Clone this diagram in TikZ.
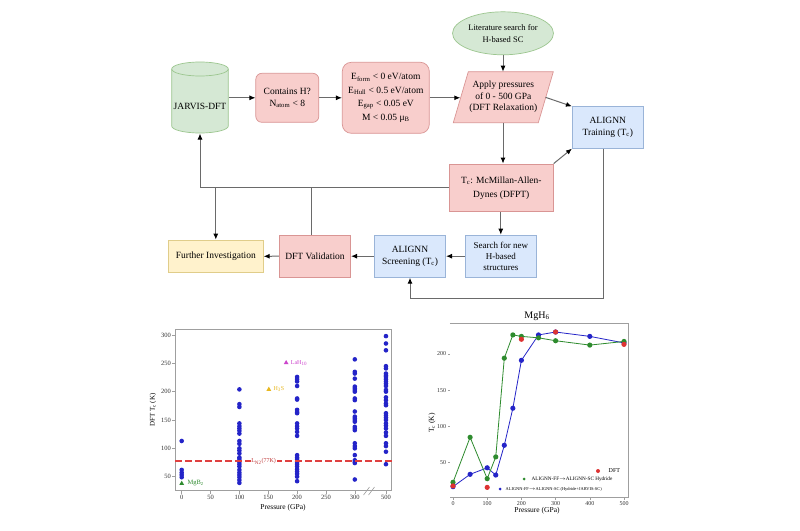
\documentclass[tikz,border=0pt]{standalone}
\usepackage{fontspec}
\setmainfont{Liberation Serif}
\usetikzlibrary{arrows.meta,shapes.geometric}
\definecolor{pinkF}{HTML}{F8CECC}
\definecolor{pinkD}{HTML}{D99594}
\definecolor{greenF}{HTML}{D5E8D4}
\definecolor{greenD}{HTML}{9CC68F}
\definecolor{blueF}{HTML}{DAE8FC}
\definecolor{blueD}{HTML}{9AB4D8}
\definecolor{yellowF}{HTML}{FFF2CC}
\definecolor{yellowD}{HTML}{E0CD8A}
\definecolor{lineC}{HTML}{6A6A6A}
\definecolor{dotB}{HTML}{2424C8}
\definecolor{dotG}{HTML}{2E8B2E}
\definecolor{dotR}{HTML}{DD3333}
\definecolor{magA}{HTML}{CC44CC}
\definecolor{goldA}{HTML}{E8B820}
\definecolor{lnRed}{rgb}{0.88,0.25,0.25}
\begin{document}
\begin{tikzpicture}[x=1pt,y=-1pt,
  fc/.style={align=center, font=\fontsize{9.5}{11.5}\selectfont, inner sep=1pt, line width=0.7pt},
  pinkbox/.style={fc, fill=pinkF, draw=pinkD},
  bluebox/.style={fc, fill=blueF, draw=blueD},
  flow/.style={draw=lineC, line width=1pt, -{Latex[length=6pt,width=5pt,color=black]}},
  plain/.style={draw=lineC, line width=1pt},
  spine/.style={draw=gray!75, line width=0.6pt},
  tklab/.style={font=\fontsize{6.5}{7}\selectfont, inner sep=0.5pt, text=black!80},
  tklabr/.style={font=\fontsize{6}{7}\selectfont, inner sep=0.5pt, text=black!80},
  tri/.style={regular polygon, regular polygon sides=3, inner sep=0pt, minimum size=5.5pt},
]
\useasboundingbox (0,0) rectangle (800,530);
\fill[white] (0,0) rectangle (800,530);

% ---------------- flowchart ----------------
% JARVIS cylinder
\fill[greenF, draw=greenD, line width=0.7pt] (171.7,69) -- (171.7,126)
  arc[start angle=180, end angle=0, x radius=28.3, y radius=7] -- (228.3,69)
  arc[start angle=360, end angle=180, x radius=28.3, y radius=7] -- cycle;
\draw[greenD, line width=0.7pt] (171.7,69) arc[start angle=180, end angle=0, x radius=28.3, y radius=7];
\node[minimum width=56.6pt, minimum height=71.6pt, inner sep=0pt] (jarvis) at (200,97.5) {};
\node[fc] (jarvislab) at (200,106) {JARVIS-DFT};

\node[pinkbox, rounded corners=6pt, minimum width=63pt, minimum height=49pt] (contains) at (287.3,97.8) {Contains H?\\N\textsubscript{atom} < 8};
\node[pinkbox, rounded corners=9pt, minimum width=87pt, minimum height=71pt, font=\fontsize{9.5}{13.5}\selectfont] (energy) at (385.8,97.8)
  {E\textsubscript{form} < 0 eV/atom\\E\textsubscript{Hull} < 0.5 eV/atom\\E\textsubscript{gap} < 0.05 eV\\M < 0.05 μ\textsubscript{B}};
\node[ellipse, fc, fill=greenF, draw=greenD, minimum width=80pt, minimum height=43pt, font=\fontsize{8.5}{12.3}\selectfont] (lit) at (503,33.3) {Literature search for\\H-based SC};

% Apply pressures parallelogram
\fill[pinkF, draw=pinkD, line width=0.7pt] (453.3,122.7) -- (468.3,71.7) -- (553.3,71.7) -- (538.3,122.7) -- cycle;
\node[fc] (apply) at (503.3,97.2) {Apply pressures\\of 0 - 500 GPa\\(DFT Relaxation)};
\coordinate (applyW) at (460.3,97.8);
\coordinate (applyE) at (545.5,97.3);
\coordinate (applyN) at (503,71.7);
\coordinate (applyS) at (503,122.7);

\node[bluebox, minimum width=71pt, minimum height=41.6pt] (training) at (607.8,127.5) {ALIGNN\\Training (T\textsubscript{c})};
\node[pinkbox, minimum width=104pt, minimum height=47.7pt, font=\fontsize{9.5}{14}\selectfont] (tc) at (501.3,187.8) {T\textsubscript{c}: McMillan-Allen-\\Dynes (DFPT)};
\node[bluebox, minimum width=71.7pt, minimum height=42.3pt, font=\fontsize{9}{11.2}\selectfont] (search) at (500.8,256.2) {Search for new\\H-based\\structures};
\node[bluebox, minimum width=71.4pt, minimum height=42.3pt] (screening) at (410,256.2) {ALIGNN\\Screening (T\textsubscript{c})};
\node[pinkbox, minimum width=71.4pt, minimum height=42.3pt] (validation) at (315,256.2) {DFT Validation};
\node[fc, fill=yellowF, draw=yellowD, minimum width=95pt, minimum height=32.7pt] (further) at (215.8,256.3) {Further Investigation};

% connectors
\draw[flow] (jarvis.east |- contains.west) -- (contains.west);
\draw[flow] (contains.east) -- (energy.west);
\draw[flow] (energy.east) -- (applyW);
\draw[flow] (lit.south) -- (applyN);
\draw[flow] (applyE) -- (training.north west);
\draw[flow] (applyS) -- (applyS |- tc.north);
\draw[flow] (tc.north east) -- (training.south west);
\draw[flow] (search.north |- tc.south) -- (search.north);
\draw[flow] (search.west) -- (screening.east);
\draw[flow] (screening.west) -- (validation.east);
\draw[flow] (validation.west) -- (further.east);
\coordinate (loopR) at (603.3,298.7);
\draw[flow] (loopR |- training.south) -- (loopR) -| (screening.south);
\coordinate (fbL) at (200,187.8);
\draw[flow] (tc.west) -- (fbL) -- (jarvis.south);
\draw[flow] (further.north |- tc.west) -- (further.north);
\draw[plain] ([xshift=-4pt]validation.north) -- ([xshift=-4pt]validation.north |- tc.west);

% ---------------- left plot ----------------
\begin{scope}[shift={(181.7,505)}, x=0.577pt, y=0.5667pt]
  \draw[spine] (-11.6,25.2) rectangle (364,310);
  \foreach \t in {50,100,150,200,250,300} {
    \draw[spine] (-11.6,\t) -- (-16.8,\t);
    \node[tklab, anchor=east] (ly\t) at (-17.5,\t) {\t};
  }
  \foreach \p/\l in {0/0,50/50,100/100,150/150,200/200,250/250,300/300,354/500} {
    \draw[spine] (\p,25.2) -- (\p,19.9);
    \node[tklab, anchor=north] (lx\l) at (\p,19) {\l};
  }
  \foreach \t in {113,62,57,53,49} \fill[dotB] (0,\t) circle (2.3pt);
  \foreach \t in {204,178,173,144,139,135,131,126,113,108,100,96,91,84,81,76,72,68,62,57,53,49,44,39}
    \fill[dotB] (100,\t) circle (2.3pt);
  \foreach \t in {226,222,218,210,188,186,168,164,162,144,139,135,129,122,88,84,81,76,72,68,63,59,55,50,42}
    \fill[dotB] (200,\t) circle (2.3pt);
  \foreach \t in {257,235,232,223,209,206,203,200,188,185,165,156,153,150,147,138,135,132,109,104,100,88,79,76,74,45}
    \fill[dotB] (300,\t) circle (2.3pt);
  \foreach \t in {298,285,273,245,241,232,229,226,222,218,214,210,203,200,190,185,179,176,162,158,154,150,144,140,135,128,122,109,104,94,72}
    \fill[dotB] (354,\t) circle (2.3pt);
  \path[draw=lnRed, line width=2pt, dash pattern=on 7pt off 3pt] (-11.6,77) -- (364,77);
  \node[fill=white, inner sep=0.8pt, text=lnRed!85!black, font=\fontsize{6}{7}\selectfont] (ln2) at (142,77) {L\textsubscript{N2}(77K)};
  \node[tri, fill=dotG] (mgb2) at (0,38) {};
  \node[anchor=west, text=dotG, font=\fontsize{6.5}{7}\selectfont, inner sep=0.5pt] (mgb2lab) at (9,38) {MgB\textsubscript{2}};
  \node[tri, fill=magA] (lah) at (181,251) {};
  \node[anchor=west, text=magA, font=\fontsize{6}{7}\selectfont, inner sep=0.5pt] (lahlab) at (188,251) {LaH\textsubscript{10}};
  \node[tri, fill=goldA] (h3s) at (151,204) {};
  \node[anchor=west, text=goldA, font=\fontsize{6}{7}\selectfont, inner sep=0.5pt] (h3slab) at (158,204) {H\textsubscript{3}S};
\end{scope}
\draw[gray!75, line width=0.6pt] (363.5,495) -- (369.5,487) (368.5,495) -- (374.5,487);
\node[rotate=90, font=\fontsize{7}{8}\selectfont] (lylab) at (153,410) {DFT T\textsubscript{c} (K)};
\node[font=\fontsize{7.5}{8}\selectfont] (lxlab) at (283,508) {Pressure (GPa)};

% ---------------- right plot ----------------
\node[font=\fontsize{10}{11}\selectfont] (rtitle) at (537,316) {MgH\textsubscript{6}};
\begin{scope}[shift={(453,499)}, x=0.342pt, y=0.726pt]
  \draw[spine] (-8.8,242.4) -- (511.7,242.4) -- (511.7,2.75) -- (-8.8,2.75);
  \foreach \t in {50,100,150,200} {
    \draw[spine] (-8.8,\t) -- (-16,\t);
    \node[tklabr, anchor=east] (ry\t) at (-18,\t) {\t};
  }
  \foreach \p in {0,100,200,300,400,500} {
    \draw[spine] (\p,2.75) -- (\p,-1.5);
    \node[tklabr, anchor=north] (rx\p) at (\p,-2) {\p};
  }
  \draw[dotB, line width=0.8pt] plot coordinates {(0,17) (50,34) (100,43) (125,33) (150,74) (175,125) (200,191) (250,226) (300,230) (400,224) (500,215)};
  \foreach \p/\t in {0/17,50/34,100/43,125/33,150/74,175/125,200/191,250/226,300/230,400/224,500/215}
    \fill[dotB] (\p,\t) circle (2.6pt);
  \draw[dotG, line width=0.8pt] plot coordinates {(0,23) (50,85) (100,28) (125,58) (150,194) (175,226) (200,224) (250,222) (300,218) (400,212) (500,217)};
  \foreach \p/\t in {0/23,50/85,100/28,125/58,150/194,175/226,200/224,250/222,300/218,400/212,500/217}
    \fill[dotG] (\p,\t) circle (2.6pt);
  \foreach \p/\t in {0/18,100/16,200/220,300/230,500/213}
    \fill[dotR] (\p,\t) circle (2.6pt);
\end{scope}
\fill[dotR] (598,471) circle (2pt);
\node[anchor=west, inner sep=0.5pt, font=\fontsize{6}{7}\selectfont] (legdft) at (608,471) {DFT};
\fill[dotG] (524,479) circle (1.5pt);
\node[anchor=west, inner sep=0.5pt, font=\fontsize{5.2}{6}\selectfont] (leghyd) at (531,479) {ALIGNN-FF$\rightarrow$ALIGNN-SC Hydride};
\fill[dotB] (500,489) circle (1.5pt);
\node[anchor=west, inner sep=0.5pt, font=\fontsize{4.4}{5}\selectfont] (legall) at (505,489) {ALIGNN-FF$\rightarrow$ALIGNN-SC (Hydride+JARVIS-SC)};
\node[rotate=90, font=\fontsize{7.5}{8}\selectfont] (rylab) at (432,423) {T\textsubscript{c} (K)};
\node[font=\fontsize{7.5}{8}\selectfont] (rxlab) at (537,511) {Pressure (GPa)};
\end{tikzpicture}
\end{document}
